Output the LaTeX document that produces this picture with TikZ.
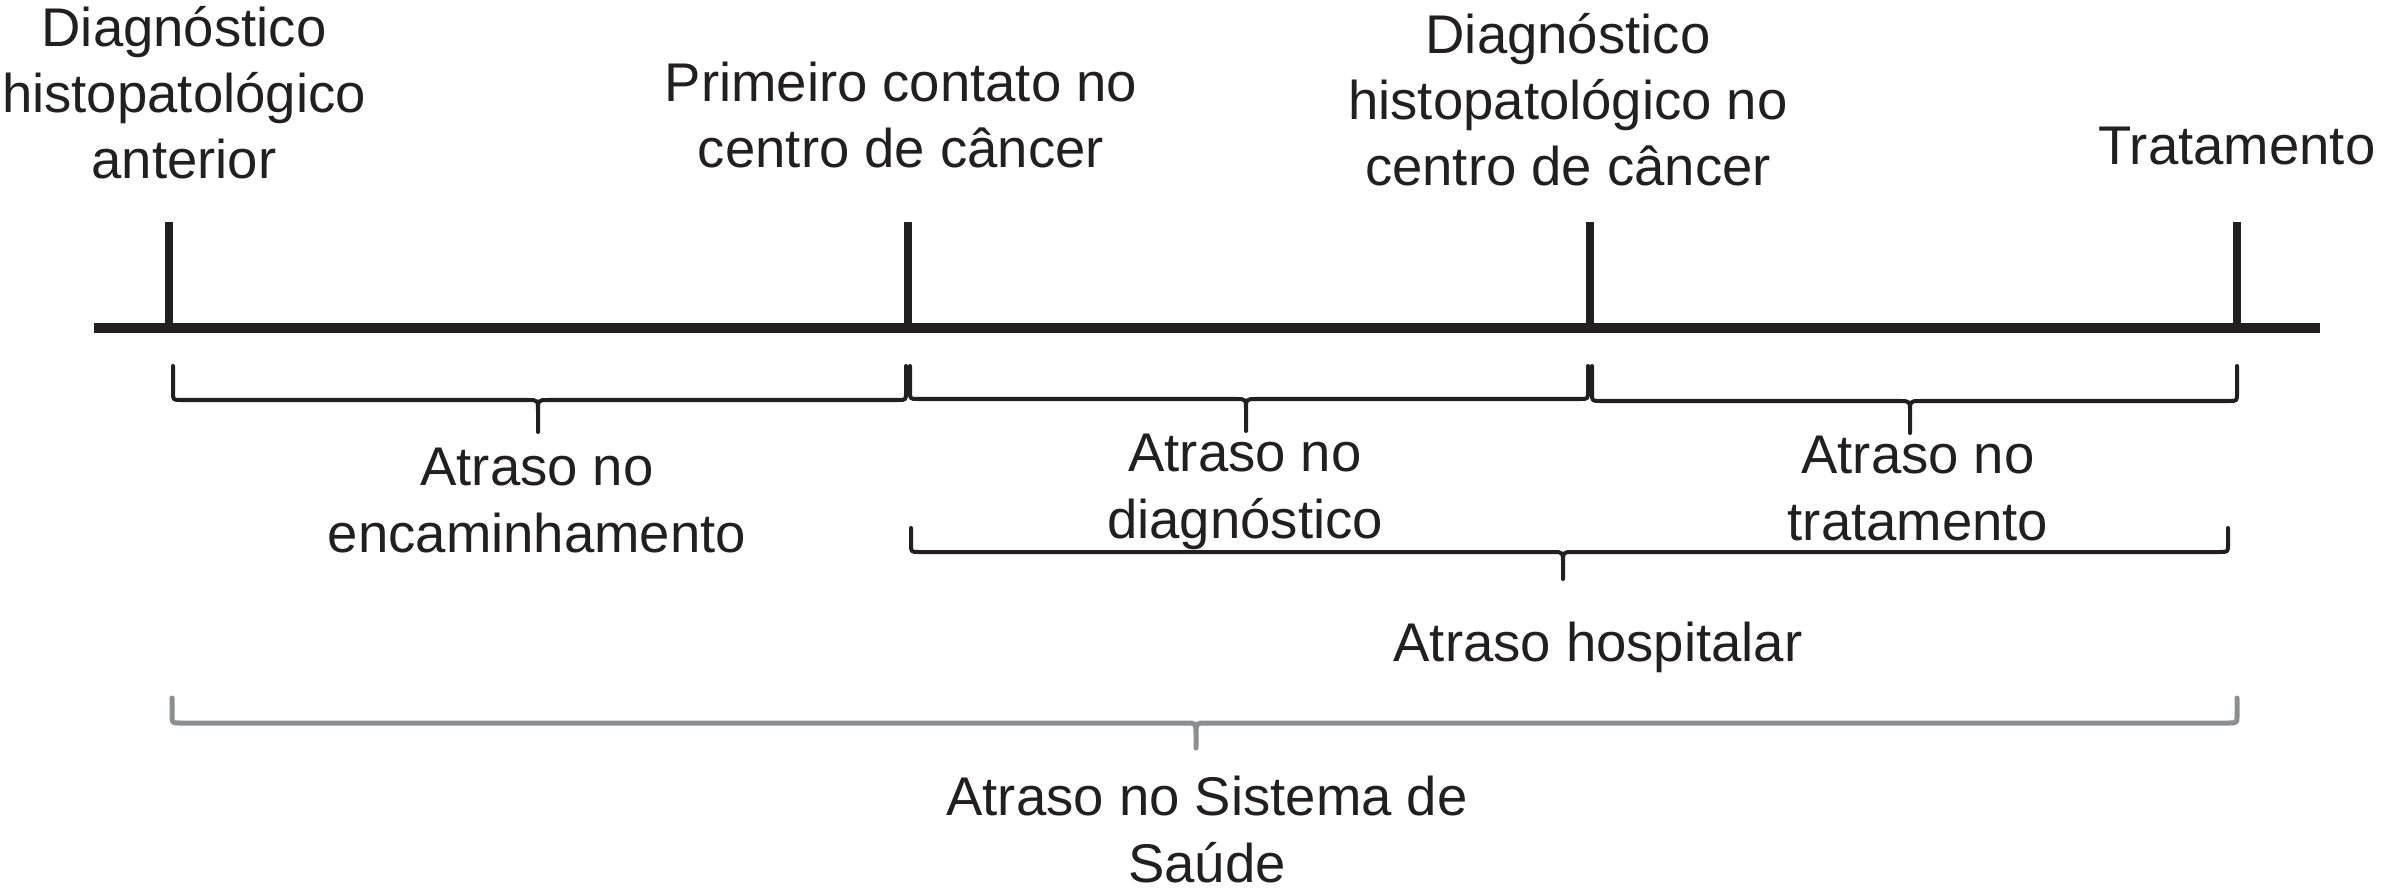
\documentclass[tikz,border=0pt]{standalone}
\usepackage{fontspec}
\setmainfont{Liberation Sans}
\definecolor{ink}{HTML}{231F20}
\definecolor{greybr}{HTML}{8C8E91}
\tikzset{
  lbl/.style={align=center, anchor=base, inner sep=0pt, text=ink,
    font=\fontsize{15.5pt}{18.8pt}\selectfont},
  axisline/.style={draw=ink, line width=1mm},
  tickline/.style={draw=ink, line width=0.8mm},
  bracket/.style={draw=ink, line width=0.4mm, line join=round, line cap=round},
  greybracket/.style={bracket, draw=greybr, line width=0.5mm}
}
% brace: #1 style, #2 xl, #3 xr, #4 xm, #5 top, #6 line y, #7 tip y
\newcommand\mybrace[7]{%
  \draw[#1] (#2,#5) -- (#2,#6-8) .. controls (#2,#6) .. (#2+8,#6)
    -- (#4-10,#6) .. controls (#4,#6) .. (#4,#6+12) -- (#4,#7)
    -- (#4,#6+12) .. controls (#4,#6) .. (#4+10,#6)
    -- (#3-8,#6) .. controls (#3,#6) .. (#3,#6-8) -- (#3,#5);
}
\begin{document}
\begin{tikzpicture}[x=0.01cm, y=-0.01cm]
\useasboundingbox (0,0) rectangle (2381,894);

% timeline
\coordinate (L) at (94,328);
\coordinate (R) at (2320,328);
\draw[axisline] (L) -- (R);
\foreach \i/\x in {1/169,2/908,3/1590,4/2237}{
  \coordinate (t\i) at (\x,326);
  \coordinate (t\i top) at (\x,222);
  \draw[tickline] (t\i) -- (t\i top);
}

% top labels (anchor = baseline of last line)
\node[lbl] (n1) at (184,179) {Diagnóstico\\histopatológico\\anterior};
\node[lbl] (n2) at (901,168) {Primeiro contato no\\centro de câncer};
\node[lbl] (n3) at (1568,186) {Diagnóstico\\histopatológico no\\centro de câncer};
\node[lbl] (n4) at (2237,165) {Tratamento};

% braces, first row
\mybrace{bracket}{173}{906}{538}{366}{400}{432}
\mybrace{bracket}{910}{1588}{1246}{366}{399}{431}
\mybrace{bracket}{1592}{2237}{1910}{366}{401}{433}
% hospital brace
\mybrace{bracket}{911}{2228}{1563}{528}{552}{579}
% system brace
\mybrace{greybracket}{172}{2237}{1196}{698}{723}{748}

% lower labels
\node[lbl] (l1) at (537,552) {Atraso no\\encaminhamento};
\node[lbl] (l2) at (1245,538) {Atraso no\\diagnóstico};
\node[lbl] (l3) at (1918,540) {Atraso no\\tratamento};
\node[lbl] (l4) at (1598,661) {Atraso hospitalar};
\node[lbl] (l5) at (1207,882) {Atraso no Sistema de\\Saúde};
\end{tikzpicture}
\end{document}
